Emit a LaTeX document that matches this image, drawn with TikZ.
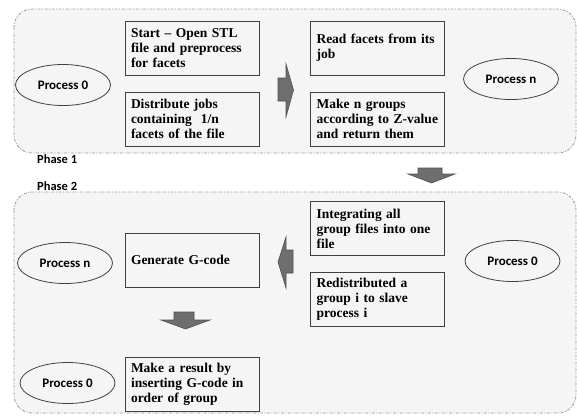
\documentclass[tikz,border=0pt]{standalone}
\usepackage{fontspec}
\setmainfont{Liberation Serif}
\newfontfamily\lblfont{Carlito}
\usetikzlibrary{shapes.geometric}
\definecolor{panelfill}{HTML}{F5F5F5}
\definecolor{panelline}{HTML}{9A9A9A}
\definecolor{boxline}{HTML}{404040}
\definecolor{arrowfill}{HTML}{6E6E6E}
\definecolor{arrowline}{HTML}{505050}
\tikzset{
  panel/.style={draw=panelline, fill=panelfill, line width=0.8pt,
    dash pattern=on 3pt off 1.5pt on 1pt off 1.5pt, rounded corners=18pt},
  stepbox/.style={draw=boxline, line width=1pt, fill=panelfill,
    minimum width=134pt, minimum height=54pt, text width=122pt, inner xsep=6pt,
    align=left, font=\bfseries\fontsize{13.5}{15}\selectfont},
  proc/.style={draw=boxline, ellipse, line width=0.8pt, fill=panelfill,
    minimum width=95pt, minimum height=41pt, inner sep=0pt,
    font=\lblfont\bfseries\fontsize{13}{15}\selectfont},
  phase/.style={anchor=west, inner sep=0pt,
    font=\lblfont\bfseries\fontsize{12.5}{14}\selectfont},
  blockarrow/.style={fill=arrowfill, draw=arrowline, line width=0.6pt}
}
\begin{document}
\begin{tikzpicture}[x=1pt,y=-1pt]
\useasboundingbox (0,0) rectangle (577,416);
% panels
\draw[panel] (14,9) rectangle (576,153);
\draw[panel] (14,192) rectangle (576,413);
% phase labels
\node[phase] (ph1) at (37,159) {Phase 1};
\node[phase] (ph2) at (37,186) {Phase 2};
% phase 1
\node[proc] (p0a) at (63,85) {Process 0};
\node[stepbox] (b1) at (192,48) {Start -- Open STL\\file and preprocess\\for facets};
\node[stepbox] (b2) at (192,119) {Distribute jobs\\containing\ \ 1/n\\facets of the file};
\node[stepbox] (b3) at (377.5,48) {Read facets from its\\job};
\node[stepbox] (b4) at (377.5,119) {Make n groups\\according to Z-value\\and return them};
\node[proc] (pna) at (511,79) {Process n};
% phase 2
\node[stepbox] (b5) at (377.5,228.5) {Integrating all\\group files into one\\file};
\node[stepbox] (b6) at (377.5,299) {Redistributed a\\group i to slave\\process i};
\node[proc] (p0b) at (512.5,261) {Process 0};
\node[stepbox] (b7) at (192,260) {Generate G-code};
\node[proc] (pnb) at (65,263) {Process n};
\node[stepbox] (b8) at (192,384) {Make a result by\\inserting G-code in\\order of group};
\node[proc] (p0c) at (67.5,383) {Process 0};
% block arrows
\draw[blockarrow] (278,78) -- (286,78) -- (286,64) -- (293.5,90) -- (286,117) -- (286,101) -- (278,101) -- cycle;
\draw[blockarrow] (418,168) -- (442,168) -- (442,174) -- (455,174) -- (431.5,183) -- (408,174) -- (418,174) -- cycle;
\draw[blockarrow] (293,250) -- (286,250) -- (286,237) -- (278,262) -- (286,288) -- (286,273) -- (293,273) -- cycle;
\draw[blockarrow] (174,312) -- (194,312) -- (194,320) -- (210,320) -- (185.5,329) -- (161,320) -- (174,320) -- cycle;
\end{tikzpicture}
\end{document}
